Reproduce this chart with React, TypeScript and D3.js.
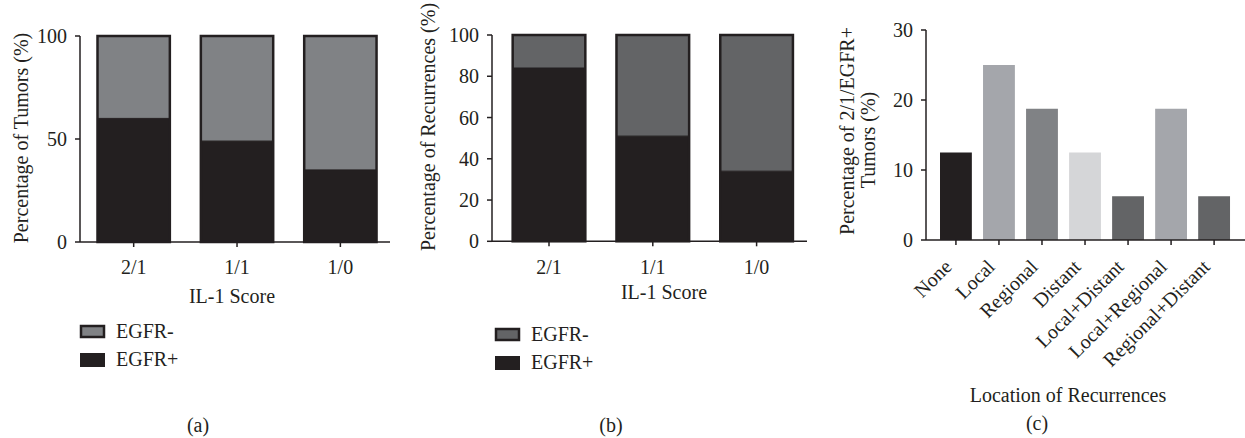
import React from "react";
import * as d3 from "d3";

const INK = "#231f20";
const FONT = "'Liberation Serif', 'Times New Roman', serif";

// panel (a) and (b): IL-1 score groups, stacked EGFR+ / EGFR-
const scores = ["2/1", "1/1", "1/0"];
const tumorsEgfrPos = [60, 49, 35];
const recurEgfrPos = [84, 51, 34];
const tumorTicks = [0, 50, 100];
const recurTicks = [0, 20, 40, 60, 80, 100];

// panel (c): location of recurrences
const locations = ["None", "Local", "Regional", "Distant", "Local+Distant", "Local+Regional", "Regional+Distant"];
const locationPct = [12.5, 25, 18.75, 12.5, 6.25, 18.75, 6.25];
const locationColors = ["#231f20", "#a4a6ab", "#808285", "#d5d6d8", "#636466", "#a4a6ab", "#636466"];
const locationTicks = [0, 10, 20, 30];

type StackProps = {
  axisX: number;
  axisEnd: number;
  bandStart: number;
  step: number;
  top: number;
  bottom: number;
  pos: number[];
  ticks: number[];
  negColor: string;
  yLabel: string;
  yLabelX: number;
  yLabelY: number;
  xTitleX: number;
  xTitleY: number;
  legendX: number;
  legendY: number;
  tag: string;
  tagX: number;
};

function StackPanel(p: StackProps) {
  const x = d3.scaleBand<string>()
    .domain(scores)
    .range([p.bandStart, p.bandStart + p.step * 3])
    .paddingInner(0.3)
    .paddingOuter(0.15);
  const y = d3.scaleLinear().domain([0, 100]).range([p.bottom, p.top]);
  const bw = x.bandwidth();

  return (
    <g>
      {scores.map((s, i) => {
        const x0 = x(s)!;
        return (
          <g key={s}>
            <rect x={x0} y={y(100)} width={bw} height={y(p.pos[i]) - y(100)} fill={p.negColor} />
            <rect x={x0} y={y(p.pos[i])} width={bw} height={y(0) - y(p.pos[i])} fill={INK} />
            <line x1={x0} x2={x0 + bw} y1={y(p.pos[i])} y2={y(p.pos[i])} stroke={INK} strokeWidth={1} />
            <rect x={x0} y={y(100)} width={bw} height={y(0) - y(100)} fill="none" stroke={INK} strokeWidth={2.5} />
          </g>
        );
      })}
      {/* y axis */}
      <line x1={p.axisX} x2={p.axisX} y1={y(100)} y2={y(0)} stroke={INK} strokeWidth={1.5} />
      {p.ticks.map(t => (
        <g key={t}>
          <line x1={p.axisX - 5} x2={p.axisX} y1={y(t)} y2={y(t)} stroke={INK} strokeWidth={1.5} />
          <text x={p.axisX - 13} y={y(t)} dy="0.35em" textAnchor="end">{t}</text>
        </g>
      ))}
      {/* x axis */}
      <line x1={p.axisX} x2={p.axisEnd} y1={y(0)} y2={y(0)} stroke={INK} strokeWidth={1.5} />
      {scores.map(s => {
        const cx = x(s)! + bw / 2;
        return (
          <g key={s}>
            <line x1={cx} x2={cx} y1={y(0)} y2={y(0) + 5} stroke={INK} strokeWidth={1.5} />
            <text x={cx} y={274} textAnchor="middle">{s}</text>
          </g>
        );
      })}
      <text x={p.xTitleX} y={p.xTitleY} textAnchor="middle">IL-1 Score</text>
      <text transform={`translate(${p.yLabelX},${p.yLabelY}) rotate(-90)`} textAnchor="middle" dy="0.35em">{p.yLabel}</text>
      {/* legend */}
      <rect x={p.legendX + 1} y={p.legendY + 1} width={23} height={11} fill={p.negColor} stroke={INK} strokeWidth={2.5} />
      <text x={p.legendX + 36} y={p.legendY + 13}>EGFR-</text>
      <rect x={p.legendX} y={p.legendY + 28} width={25} height={14} fill={INK} />
      <text x={p.legendX + 36} y={p.legendY + 41}>EGFR+</text>
      <text x={p.tagX} y={432} textAnchor="middle">{p.tag}</text>
    </g>
  );
}

function LocationPanel() {
  const axisX = 926;
  const step = 43.03;
  const x = d3.scaleBand<string>()
    .domain(locations)
    .range([931.4, 931.4 + step * (7 - 0.26 + 0.4)])
    .paddingInner(0.26)
    .paddingOuter(0.2);
  const y = d3.scaleLinear().domain([0, 30]).range([240, 30]);
  const bw = x.bandwidth();

  return (
    <g>
      {locations.map((l, i) => (
        <rect key={l} x={x(l)!} y={y(locationPct[i])} width={bw} height={y(0) - y(locationPct[i])} fill={locationColors[i]} />
      ))}
      <line x1={axisX} x2={axisX} y1={y(30)} y2={y(0)} stroke={INK} strokeWidth={1.5} />
      {locationTicks.map(t => (
        <g key={t}>
          <line x1={axisX - 5} x2={axisX} y1={y(t)} y2={y(t)} stroke={INK} strokeWidth={1.5} />
          <text x={axisX - 13} y={y(t)} dy="0.35em" textAnchor="end">{t}</text>
        </g>
      ))}
      <line x1={axisX} x2={1245} y1={y(0)} y2={y(0)} stroke={INK} strokeWidth={1.5} />
      {locations.map(l => {
        const cx = x(l)! + bw / 2;
        return (
          <g key={l}>
            <line x1={cx} x2={cx} y1={y(0)} y2={y(0) + 5} stroke={INK} strokeWidth={1.5} />
            <text transform={`translate(${cx - 3},${y(0) + 28}) rotate(-45)`} textAnchor="end">{l}</text>
          </g>
        );
      })}
      <text transform="translate(847,131) rotate(-90)" textAnchor="middle" dy="0.35em">Percentage of 2/1/EGFR+</text>
      <text transform="translate(868,140) rotate(-90)" textAnchor="middle" dy="0.35em">Tumors (%)</text>
      <text x={1068} y={402} textAnchor="middle">Location of Recurrences</text>
      <text x={1037} y={430} textAnchor="middle">(c)</text>
    </g>
  );
}

export default function App() {
  return (
    <svg width={1245} height={438} style={{ position: "absolute", left: 0, top: 0, background: "#fff" }}
      fontFamily={FONT} fontSize={20} fill={INK}>
      <StackPanel axisX={80} axisEnd={390} bandStart={82} step={103.35} top={36} bottom={242}
        pos={tumorsEgfrPos} ticks={tumorTicks} negColor="#808285"
        yLabel="Percentage of Tumors (%)" yLabelX={21} yLabelY={138}
        xTitleX={232} xTitleY={303} legendX={80} legendY={325} tag="(a)" tagX={198} />
      <StackPanel axisX={492} axisEnd={807} bandStart={497.1} step={103.8} top={35} bottom={241.3}
        pos={recurEgfrPos} ticks={recurTicks} negColor="#636466"
        yLabel="Percentage of Recurrences (%)" yLabelX={428} yLabelY={127}
        xTitleX={664} xTitleY={299} legendX={495} legendY={328} tag="(b)" tagX={611} />
      <LocationPanel />
    </svg>
  );
}
